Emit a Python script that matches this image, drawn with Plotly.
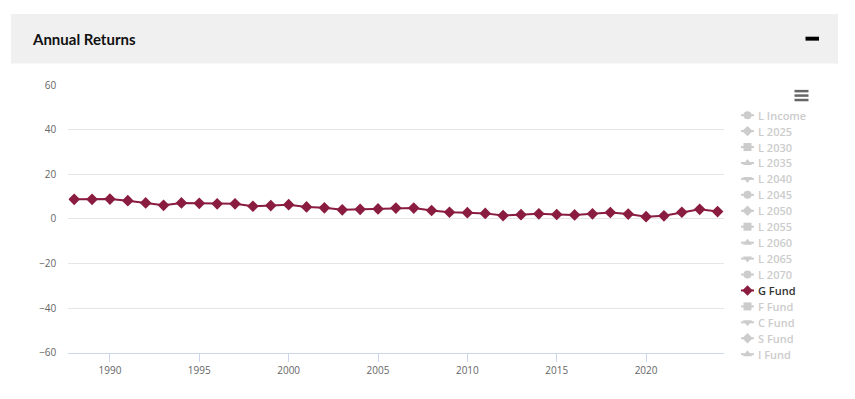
import plotly.graph_objects as go

W = 855
# the page is rendered into a 389px-tall viewport placed 5px down in the 399px capture
TOP, VH = 5, 389

# ---- data ----
years = list(range(1988, 2025))
g_fund = [8.8, 8.8, 8.9, 8.2, 7.2, 6.1, 7.2, 7.0, 6.8, 6.8, 5.7, 6.0, 6.4, 5.4, 5.0,
          4.1, 4.3, 4.5, 4.9, 4.9, 3.8, 3.0, 2.8, 2.5, 1.5, 1.9, 2.3, 2.0, 1.8, 2.3,
          2.9, 2.2, 1.0, 1.4, 3.0, 4.3, 3.3]

legend_names = ["L Income", "L 2025", "L 2030", "L 2035", "L 2040", "L 2045", "L 2050",
                "L 2055", "L 2060", "L 2065", "L 2070", "G Fund", "F Fund", "C Fund",
                "S Fund", "I Fund"]
legend_symbols = ["circle", "diamond", "square", "triangle-up", "triangle-down", "circle",
                  "diamond", "square", "triangle-up", "triangle-down", "circle", "diamond",
                  "square", "triangle-down", "diamond", "triangle-up"]
shown_series = "G Fund"

y_ticks = [-60, -40, -20, 0, 20, 40, 60]
x_ticks = [1990, 1995, 2000, 2005, 2010, 2015, 2020]

SERIES_COLOR = "#8a1c40"
HIDDEN_COLOR = "#cccccc"
FONT = "Open Sans"


def px(x):
    return x / W


def py(y):
    return 1 - (y - TOP) / VH


fig = go.Figure()

fig.add_trace(go.Scatter(
    x=years, y=g_fund, mode="lines+markers", name="G Fund",
    line=dict(color=SERIES_COLOR, width=2),
    marker=dict(symbol="diamond", size=9, color=SERIES_COLOR),
    showlegend=False, xaxis="x", yaxis="y",
))

# custom legend drawn on a pixel-space helper axis
leg_top, leg_step = 114.3, 16.1
annotations = []
for i, (nm, sym) in enumerate(zip(legend_names, legend_symbols)):
    yy = leg_top + i * leg_step
    col = SERIES_COLOR if nm == shown_series else HIDDEN_COLOR
    fig.add_trace(go.Scatter(
        x=[741, 754], y=[yy, yy], mode="lines",
        line=dict(color=col, width=2),
        showlegend=False, hoverinfo="skip", xaxis="x2", yaxis="y2",
    ))
    fig.add_trace(go.Scatter(
        x=[747.5], y=[yy], mode="markers",
        marker=dict(symbol=sym, size=8, color=col, line=dict(width=0)),
        showlegend=False, hoverinfo="skip", xaxis="x2", yaxis="y2",
    ))
    annotations.append(dict(
        x=756, y=yy, xref="x2", yref="y2", text=nm, showarrow=False,
        xanchor="left", yanchor="middle",
        font=dict(family=FONT, size=11, color="#333333" if nm == shown_series else HIDDEN_COLOR,
                  weight=600),
    ))

annotations.append(dict(
    x=px(30), y=py(37.5), xref="paper", yref="paper", text="<b>Annual Returns</b>",
    showarrow=False, xanchor="left", yanchor="middle",
    font=dict(family="Lato", size=15, color="#111111"),
))

shapes = [
    dict(type="rect", xref="paper", yref="paper", x0=px(11), x1=px(838), y0=py(12), y1=py(62),
         fillcolor="#f0f0f0", line=dict(width=0), layer="below"),
    dict(type="rect", xref="paper", yref="paper", x0=px(805.5), x1=px(819), y0=py(35), y1=py(39),
         fillcolor="#000000", line=dict(width=0)),
]
for yy in (90, 94.5, 99):
    shapes.append(dict(type="line", xref="paper", yref="paper", x0=px(794.5), x1=px(808.5),
                       y0=py(yy), y1=py(yy), line=dict(color="#666666", width=2.5)))

fig.update_layout(
    autosize=True, margin=dict(l=0, r=0, t=0, b=0),
    paper_bgcolor="white", plot_bgcolor="rgba(0,0,0,0)", showlegend=False,
    xaxis=dict(domain=[px(68.3), px(724)], range=[1987.67, 2024.36],
               tickvals=x_ticks, ticks="outside", ticklen=8, tickcolor="#ccd6eb",
               showline=True, linecolor="#ccd6eb", linewidth=1, showgrid=False,
               zeroline=False, tickfont=dict(family=FONT, size=10, color="#666666"),
               anchor="y"),
    yaxis=dict(domain=[py(354.3), py(84)], range=[-60, 60], tickvals=y_ticks,
               showgrid=True, gridcolor="#e6e6e6", gridwidth=1, zeroline=False,
               showline=False, ticks="", ticklabelstandoff=11,
               tickfont=dict(family=FONT, size=10, color="#666666"), anchor="x"),
    xaxis2=dict(domain=[0, 1], range=[0, W], visible=False, fixedrange=True, anchor="y2"),
    yaxis2=dict(domain=[0, 1], range=[TOP + VH, TOP], visible=False, fixedrange=True,
                anchor="x2"),
    annotations=annotations, shapes=shapes,
)

fig.write_html(
    "out.html",
    config={"displayModeBar": False, "responsive": True},
    default_width="100vw",
    default_height="100vh",
    post_script=(
        "document.documentElement.style.margin='0';"
        "document.body.style.margin='0';"
        "document.body.style.overflow='hidden';"
        "Plotly.Plots.resize(document.getElementById('{plot_id}'));"
    ),
)
